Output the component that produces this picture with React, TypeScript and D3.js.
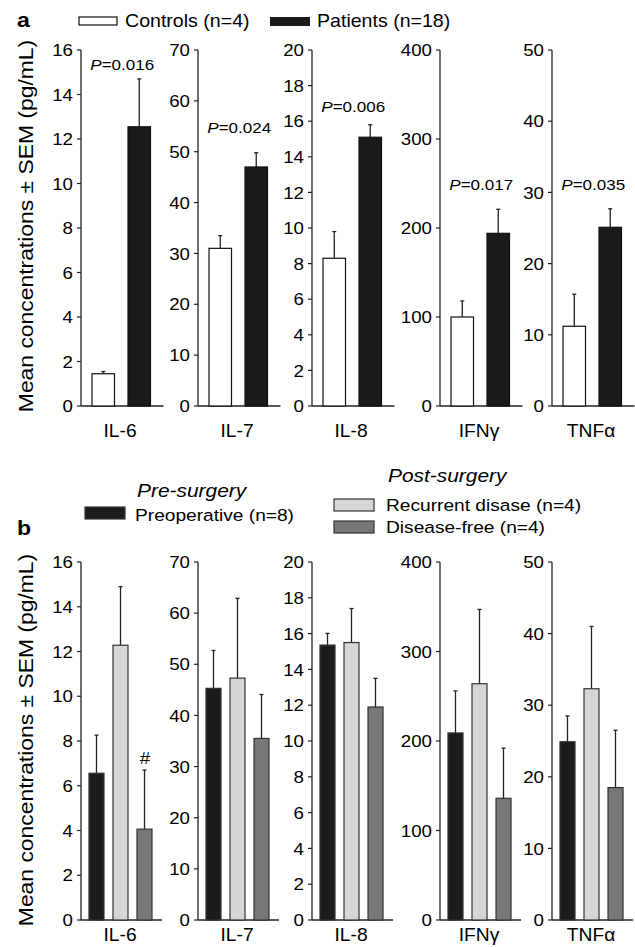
import React, { useEffect, useRef } from 'react';
import * as d3 from 'd3';

// cytokines shown in both panels
const cytokines = ['IL-6', 'IL-7', 'IL-8', 'IFNγ', 'TNFα'];
const yMax = [16, 70, 20, 400, 50];
const yStep = [2, 10, 2, 100, 10];

// panel a: controls vs patients
const groupsA = ['Controls (n=4)', 'Patients (n=18)'];
const controlsMean = [1.45, 31, 8.3, 100, 11.2];
const controlsSem = [0.1, 2.5, 1.5, 18, 4.5];
const patientsMean = [12.55, 47, 15.1, 194, 25.1];
const patientsSem = [2.15, 2.8, 0.7, 27, 2.6];
const pValues = ['0.016', '0.024', '0.006', '0.017', '0.035'];
const pLabelAt = [15.1, 53.7, 16.5, 243, 30.4];

// panel b: pre vs post surgery
const groupsB = ['Preoperative (n=8)', 'Recurrent disase (n=4)', 'Disease-free (n=4)'];
const preopMean = [6.56, 45.3, 15.36, 209, 24.9];
const preopSem = [1.7, 7.4, 0.65, 47, 3.6];
const recurrentMean = [12.28, 47.3, 15.5, 264, 32.3];
const recurrentSem = [2.62, 15.6, 1.9, 83, 8.7];
const diseaseFreeMean = [4.06, 35.5, 11.9, 136, 18.5];
const diseaseFreeSem = [2.64, 8.6, 1.6, 56, 8.0];

const FONT = "'Liberation Sans', Arial, Helvetica, sans-serif";
const SX = 1.1;
const axisX = [81, 198, 312, 440, 552];

const App = () => {
  const ref = useRef<SVGSVGElement>(null);

  useEffect(() => {
    const svg = d3.select(ref.current);
    svg.selectAll('*').remove();

    const text = (x: number, y: number, str: string, size: number, opts: any = {}) => {
      const t = svg.append('text')
        .attr('transform', `translate(${x},${y})${opts.rotate ? ` rotate(${opts.rotate})` : ''} scale(${SX},1)`)
        .attr('font-family', FONT)
        .attr('font-size', size)
        .attr('fill', '#000')
        .attr('text-anchor', opts.anchor || 'start')
        .attr('font-weight', opts.bold ? 'bold' : 'normal')
        .attr('font-style', opts.italic ? 'italic' : 'normal');
      if (opts.dy) t.attr('dy', opts.dy);
      t.text(str);
      return t;
    };

    const drawPanel = (cfg: any) => {
      cytokines.forEach((name, i) => {
        const x0 = axisX[i];
        const y = d3.scaleLinear().domain([0, yMax[i]]).range([cfg.zero, cfg.top]);
        const x = d3.scaleBand().domain(cfg.groups)
          .range([x0, x0 + cfg.width])
          .paddingInner(0.375)
          .paddingOuter(cfg.outer);

        // axes
        svg.append('line')
          .attr('x1', x0).attr('x2', x0)
          .attr('y1', y(0)).attr('y2', y(yMax[i]))
          .attr('stroke', '#222').attr('stroke-width', 1.3);
        svg.append('line')
          .attr('x1', x0).attr('x2', x0 + cfg.width + 2)
          .attr('y1', y(0)).attr('y2', y(0))
          .attr('stroke', '#222').attr('stroke-width', 1.6);

        d3.range(0, yMax[i] + yStep[i] / 2, yStep[i]).forEach(v => {
          svg.append('line')
            .attr('x1', x0 - 4).attr('x2', x0)
            .attr('y1', y(v)).attr('y2', y(v))
            .attr('stroke', '#222').attr('stroke-width', 1.2);
          text(x0 - 8, y(v), String(v), 17, { anchor: 'end', dy: '0.36em' });
        });

        cfg.groups.forEach((g: string, k: number) => {
          const m = cfg.means[k][i];
          const s = cfg.sems[k][i];
          const bx = x(g)!;
          const cx = bx + x.bandwidth() / 2;
          svg.append('line')
            .attr('x1', cx).attr('x2', cx)
            .attr('y1', y(m)).attr('y2', y(m + s))
            .attr('stroke', '#222').attr('stroke-width', 1.3);
          svg.append('line')
            .attr('x1', cx - 2).attr('x2', cx + 2)
            .attr('y1', y(m + s)).attr('y2', y(m + s))
            .attr('stroke', '#222').attr('stroke-width', 1.3);
          svg.append('rect')
            .attr('x', bx).attr('y', y(m))
            .attr('width', x.bandwidth()).attr('height', y(0) - y(m))
            .attr('fill', cfg.fills[k])
            .attr('stroke', cfg.strokes[k]).attr('stroke-width', 1.2);
        });

        text(x0 + 39, cfg.labelY, name, 17.5, { anchor: 'middle' });

        if (cfg.pValues) {
          const cx = x0 + cfg.width / 2 + 1;
          const t = text(cx, y(pLabelAt[i]), '', 15.5, { anchor: 'middle' });
          t.append('tspan').attr('font-style', 'italic').text('P');
          t.append('tspan').text('=' + cfg.pValues[i]);
        }
      });

      // y axis title
      text(33, cfg.titleY, 'Mean concentrations ± SEM (pg/mL)', 20.8, { anchor: 'middle', rotate: -90 });
    };

    // panel a
    text(17, 27, 'a', 21, { bold: true });
    svg.append('rect').attr('x', 79).attr('y', 17).attr('width', 38).attr('height', 8)
      .attr('fill', '#fff').attr('stroke', '#111').attr('stroke-width', 1.2);
    text(125, 27, groupsA[0], 17.8);
    svg.append('rect').attr('x', 270).attr('y', 17).attr('width', 40).attr('height', 9)
      .attr('fill', '#1a1a1a');
    text(317, 27, groupsA[1], 17.8);

    drawPanel({
      groups: groupsA,
      means: [controlsMean, patientsMean],
      sems: [controlsSem, patientsSem],
      fills: ['#ffffff', '#1a1a1a'],
      strokes: ['#111', '#111'],
      zero: 406, top: 50, width: 80.5, outer: 0.306,
      labelY: 437, titleY: 226,
      pValues,
    });

    // panel b
    text(17, 535, 'b', 21, { bold: true });
    text(137, 497, 'Pre-surgery', 19, { italic: true });
    text(388, 482, 'Post-surgery', 19, { italic: true });
    const legB = [
      { x: 85, y: 507, tx: 135, ty: 521, fill: '#1c1c1c' },
      { x: 334, y: 499, tx: 386, ty: 511, fill: '#d6d6d6' },
      { x: 334, y: 521, tx: 386, ty: 533, fill: '#777777' },
    ];
    legB.forEach((l, k) => {
      svg.append('rect').attr('x', l.x).attr('y', l.y).attr('width', 40).attr('height', 12)
        .attr('fill', l.fill).attr('stroke', '#333').attr('stroke-width', 1.2);
      text(l.tx, l.ty, groupsB[k], 17.4);
    });

    drawPanel({
      groups: groupsB,
      means: [preopMean, recurrentMean, diseaseFreeMean],
      sems: [preopSem, recurrentSem, diseaseFreeSem],
      fills: ['#1c1c1c', '#d6d6d6', '#777777'],
      strokes: ['#333', '#333', '#333'],
      zero: 920, top: 562, width: 79, outer: 0.333,
      labelY: 941, titleY: 740,
    });

    // significance mark on IL-6 disease-free bar
    const yIL6 = d3.scaleLinear().domain([0, yMax[0]]).range([920, 562]);
    text(145, yIL6(diseaseFreeMean[0] + diseaseFreeSem[0]) - 6, '#', 17, { anchor: 'middle' });
  }, []);

  return (
    <svg ref={ref} width={635} height={947}
      style={{ position: 'absolute', left: 0, top: 0, background: '#fff' }} />
  );
};

export default App;
